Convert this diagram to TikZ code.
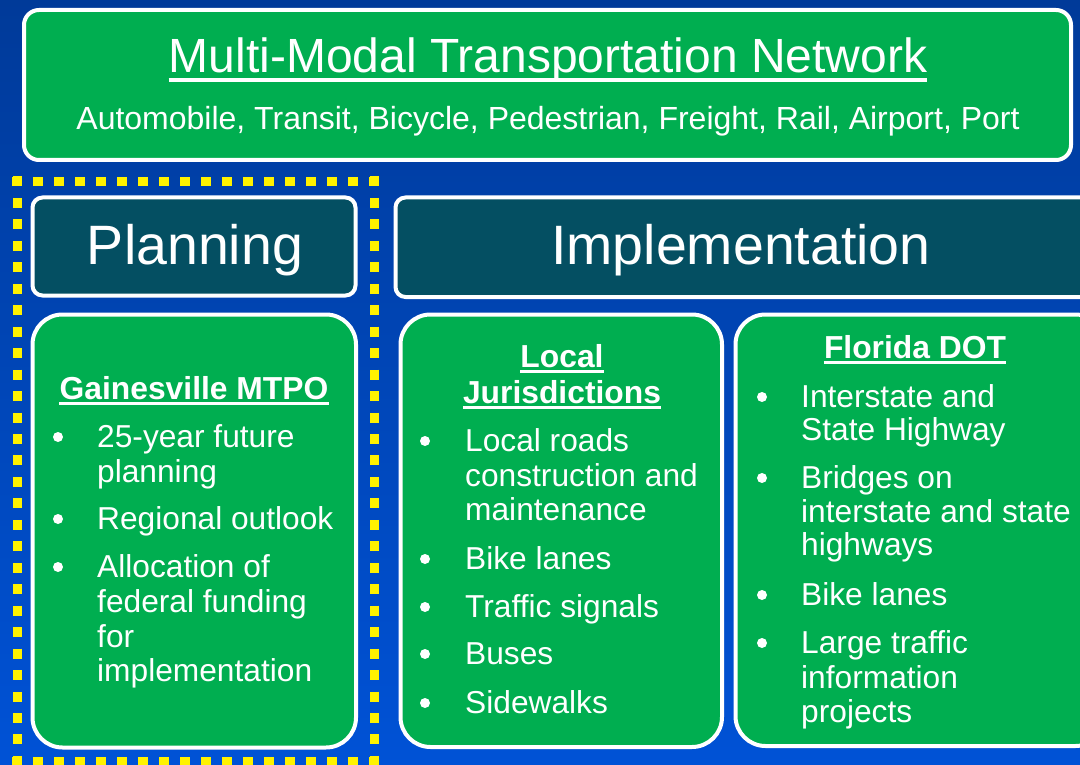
\documentclass[tikz,border=0pt]{standalone}
\usepackage{fontspec}
\setmainfont{Liberation Sans}
\definecolor{bgtop}{RGB}{0,58,153}
\definecolor{bgbot}{RGB}{0,82,214}
\definecolor{grn}{RGB}{0,174,80}
\definecolor{tealbox}{RGB}{4,79,98}
\begin{document}
\begin{tikzpicture}[x=1pt,y=-1pt,
  box/.style={draw=white, line width=4pt, inner sep=0pt, outer sep=0pt},
  greenbox/.style={box, fill=grn, rounded corners=30pt},
  titlebox/.style={box, fill=grn, rounded corners=15pt},
  headbox/.style={box, fill=tealbox, rounded corners=10pt},
  txt/.style={text=white, inner sep=0pt, anchor=base west, font=\fontsize{31.7}{34.5}\selectfont},
  bul/.style={circle, fill=white, inner sep=0pt, minimum size=10pt},
  hd/.style={text=white, inner sep=0pt, anchor=base, font=\fontsize{31.8}{36}\selectfont\bfseries},
  big/.style={text=white, inner sep=0pt, anchor=base, font=\fontsize{55.5}{60}\selectfont},
  uline/.style={white, line width=3.2pt},
  dots/.style={draw=yellow, line width=9pt}
]
\useasboundingbox (0,0) rectangle (1080,765);
\clip (0,0) rectangle (1080,765);
\shade[top color=bgtop, bottom color=bgbot] (0,0) rectangle (1080,765);

% top box
\node[titlebox, minimum width=1047pt, minimum height=150pt] (top) at (547.5,85) {};
\node[text=white, inner sep=0pt, anchor=base, font=\fontsize{48}{52}\selectfont] (title) at (548,73) {Multi-Modal Transportation Network};
\draw[white, line width=4pt] ([yshift=-7pt]title.base west) -- ([yshift=-7pt]title.base east);
\node[text=white, inner sep=0pt, anchor=base, font=\fontsize{32}{36}\selectfont] (sub) at (548,130) {Automobile, Transit, Bicycle, Pedestrian, Freight, Rail, Airport, Port};

% yellow dotted frame (corners A B C D)
\coordinate (fA) at (17,181.5);
\coordinate (fB) at (374,181.5);
\coordinate (fC) at (374,761);
\coordinate (fD) at (17,761);
\draw[dots, dash pattern=on 10pt off 11pt] ([xshift=-5pt]fA) -- ([xshift=5pt]fB);
\draw[dots, dash pattern=on 10pt off 11pt] ([xshift=-5pt]fD) -- ([xshift=5pt]fC);
\draw[dots, dash pattern=on 10pt off 11.46pt] ([yshift=5pt]fA) -- ([yshift=-5pt]fD);
\draw[dots, dash pattern=on 10pt off 11.46pt] ([yshift=5pt]fB) -- ([yshift=-5pt]fC);

% header boxes
\node[headbox, minimum width=323pt, minimum height=98pt] (plan) at (194,246.5) {};
\node[big] (plantxt) at (195,264) {Planning};
\node[headbox, minimum width=710pt, minimum height=99.5pt] (impl) at (750.5,247.25) {};
\node[big] (impltxt) at (741,264) {Implementation};

% content boxes
\node[greenbox, minimum width=323.5pt, minimum height=433pt] (gain) at (194.25,531) {};
\node[greenbox, minimum width=321.5pt, minimum height=432.5pt] (local) at (561.25,530.75) {};
\node[greenbox, minimum width=370pt, minimum height=431.5pt] (fdot) at (920.5,530.25) {};

% Gainesville MTPO
\node[hd] (gh) at (194,399) {Gainesville MTPO};
\draw[uline] ([yshift=-4.5pt]gh.base west) -- ([yshift=-4.5pt]gh.base east);
\foreach \y [count=\i] in {447,529,577}
  \node[bul] (gb\i) at (58,\y-10) {};
\foreach \y/\t [count=\i] in {447/{25-year future}, 482/{planning}, 529/{Regional outlook}, 577/{Allocation of}, 612/{federal funding}, 647/{for}, 681/{implementation}}
  \node[txt] (gt\i) at (97,\y) {\t};

% Local Jurisdictions
\node[hd] (lh1) at (562,367) {Local};
\draw[uline] ([yshift=-4.5pt]lh1.base west) -- ([yshift=-4.5pt]lh1.base east);
\node[hd] (lh2) at (562,403) {Jurisdictions};
\draw[uline] ([yshift=-4.5pt]lh2.base west) -- ([yshift=-4.5pt]lh2.base east);
\foreach \y [count=\i] in {451,569,617,664,713}
  \node[bul] (lb\i) at (425,\y-10) {};
\foreach \y/\t [count=\i] in {451/{Local roads}, 486/{construction and}, 520/{maintenance}, 569/{Bike lanes}, 617/{Traffic signals}, 664/{Buses}, 713/{Sidewalks}}
  \node[txt] (lt\i) at (465,\y) {\t};

% Florida DOT
\node[hd] (fh) at (915,358) {Florida DOT};
\draw[uline] ([yshift=-4.5pt]fh.base west) -- ([yshift=-4.5pt]fh.base east);
\foreach \y [count=\i] in {407,488,605,653}
  \node[bul] (fb\i) at (762,\y-10) {};
\foreach \y/\t [count=\i] in {407/{Interstate and}, 440/{State Highway}, 488/{Bridges on}, 522/{interstate and state}, 555/{highways}, 605/{Bike lanes}, 653/{Large traffic}, 688/{information}, 722/{projects}}
  \node[txt] (ft\i) at (801,\y) {\t};
\end{tikzpicture}
\end{document}
